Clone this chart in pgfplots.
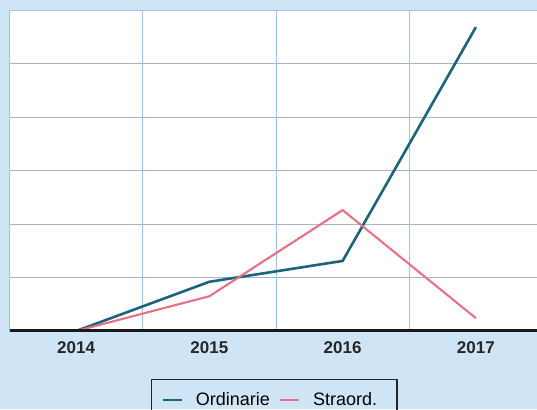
\documentclass[border=0pt]{standalone}
\usepackage{pgfplots}
\pgfplotsset{compat=1.18}
\usepackage{fontspec}
\setmainfont{Liberation Sans}
\definecolor{bg}{RGB}{207,229,245}
\definecolor{gridh}{RGB}{165,180,210}
\definecolor{gridv}{RGB}{160,195,230}
\definecolor{ordc}{RGB}{28,100,122}
\definecolor{strc}{RGB}{232,112,132}
\begin{document}
\begin{tikzpicture}[x=1bp,y=1bp]
\path[use as bounding box] (0,0) rectangle (537,409);
\fill[bg] (0,0) rectangle (537,409);
\clip (0,0) rectangle (537,409);
\begin{axis}[
  at={(9.5bp,78bp)}, anchor=south west,
  scale only axis, width=533bp, height=321bp,
  xmin=-0.5, xmax=3.5, ymin=0, ymax=6,
  axis background/.style={fill=white},
  xtick={0,1,2,3}, xticklabels={2014,2015,2016,2017},
  minor xtick={0.5,1.5,2.5},
  xminorgrids=true,
  ytick={1,2,3,4,5}, yticklabels={},
  ymajorgrids=true,
  major grid style={gridh, line width=0.9bp},
  minor grid style={gridv, line width=0.9bp},
  tick style={draw=none},
  axis line style={draw=gridv, line width=0.9bp},
  xticklabel style={font=\fontsize{17bp}{20bp}\selectfont\bfseries, text=black!85, yshift=-7bp},
  legend columns=2,
  legend style={at={(0.2655,-0.1495)}, anchor=north west, draw=black!85, line width=1.4bp, fill=none,
    font=\fontsize{18bp}{21bp}\selectfont, inner xsep=10bp, inner ysep=13bp,
    nodes={inner sep=0pt},
    /tikz/every odd column/.append style={column sep=13bp},
    /tikz/every even column/.append style={column sep=9bp}},
  legend image code/.code={\draw[#1, line width=2.2bp] (0bp,0bp) -- (19bp,0bp);},
]
\addplot[ordc, line width=2.6bp] coordinates {(0,0) (1,0.92) (2,1.31) (3,5.68)};
\addlegendentry{Ordinarie}
\addplot[strc, line width=2.1bp] coordinates {(0,0) (1,0.65) (2,2.26) (3,0.24)};
\addlegendentry{Straord.\rule{10bp}{0pt}}
\draw[black!90, line width=3.2bp] (axis cs:-0.5,0) -- (axis cs:3.5,0);
\end{axis}
\end{tikzpicture}
\end{document}
